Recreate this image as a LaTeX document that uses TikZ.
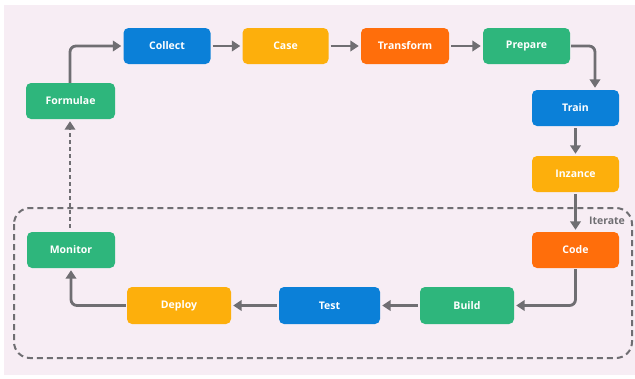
\documentclass[tikz,border=0pt]{standalone}
\usepackage{fontspec}
\setmainfont{Open Sans}
\usetikzlibrary{arrows.meta}

\definecolor{bgpink}{HTML}{F7EDF4}
\definecolor{cblue}{HTML}{0B80D8}
\definecolor{cyellow}{HTML}{FDAF0C}
\definecolor{corange}{HTML}{FF6E0B}
\definecolor{cgreen}{HTML}{2EB67C}
\definecolor{cgray}{HTML}{6F6E72}

\tikzset{
  stepbox/.style={rounded corners=5pt, minimum height=36pt, inner sep=0pt,
    text=white, font=\bfseries\fontsize{10.5}{12}\selectfont},
  flow/.style={draw=cgray, line width=2.8pt, rounded corners=6pt,
    -{Triangle[length=8.5pt,width=10.5pt]}, shorten >=2pt},
}

\begin{document}
\begin{tikzpicture}[x=1pt,y=-1pt]
\useasboundingbox (0,0) rectangle (635,378);
%background
\fill[white] (0,0) rectangle (635,378);
\fill[bgpink] (4,5) rectangle (635,375);

%Shape: iterate loop
\draw[cgray, line width=2pt, dash pattern=on 6pt off 4pt, rounded corners=16pt] (14,208) rectangle (632,358);
\node[text=cgray, font=\bfseries\fontsize{10.5}{12}\selectfont] (iterate) at (607,221) {Iterate};

% Step Nodes
\node[stepbox, fill=cblue, minimum width=87pt] (collect) at (167,46) {Collect};
\node[stepbox, fill=cyellow, minimum width=86pt] (case) at (285.5,46) {Case};
\node[stepbox, fill=corange, minimum width=88pt] (transform) at (405,46) {Transform};
\node[stepbox, fill=cgreen, minimum width=87pt] (prepare) at (526.5,46) {Prepare};
\node[stepbox, fill=cblue, minimum width=87pt] (train) at (575.5,108) {Train};
\node[stepbox, fill=cyellow, minimum width=87pt] (inzance) at (575.5,174) {Inzance};
\node[stepbox, fill=corange, minimum width=87pt] (code) at (575.5,250) {Code};
\node[stepbox, fill=cgreen, minimum width=94pt, minimum height=37pt] (build) at (467,305.5) {Build};
\node[stepbox, fill=cblue, minimum width=101pt, minimum height=37pt] (test) at (329.5,305.5) {Test};
\node[stepbox, fill=cyellow, minimum width=104pt, minimum height=37pt] (deploy) at (179,305.5) {Deploy};
\node[stepbox, fill=cgreen, minimum width=88pt] (monitor) at (71,250) {Monitor};
\node[stepbox, fill=cgreen, minimum width=89pt] (formulae) at (70.5,101) {Formulae};

% Connectors
\draw[flow] ([xshift=-0.5pt]formulae.north) |- (collect.west);
\draw[flow, shorten <=2pt] (collect) -- (case);
\draw[flow, shorten <=2pt] (case) -- (transform);
\draw[flow, shorten <=2pt] (transform) -- (prepare);
\draw[flow, shorten <=1pt] (prepare.east) -| ([xshift=19.5pt]train.north);
\draw[flow, shorten <=2pt] (train) -- (inzance);
\draw[flow, shorten <=2pt] (inzance) -- (code);
\draw[flow, shorten <=1pt] (code.south) |- (build.east);
\draw[flow, shorten <=2pt] (build) -- (test);
\draw[flow, shorten <=2pt] (test) -- (deploy);
\draw[flow, shorten <=1pt] (deploy.west) -| (monitor.south);
\draw[flow, line width=2pt, dash pattern=on 4pt off 3pt, shorten <=4pt] ([xshift=-1pt]monitor.north) -- ([xshift=-0.5pt]formulae.south);

\end{tikzpicture}
\end{document}
